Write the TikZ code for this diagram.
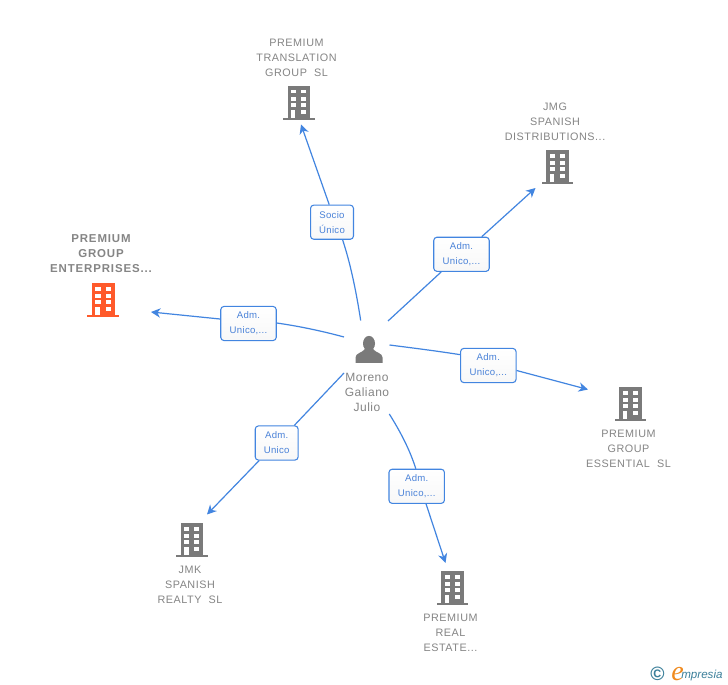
\documentclass[tikz,border=0pt]{standalone}
\usepackage{fontspec}
\setmainfont{Liberation Sans}
\newfontfamily\logofont{Liberation Serif}
\usetikzlibrary{arrows.meta}
\definecolor{iconGrey}{HTML}{7A7A7A}
\definecolor{iconOrange}{HTML}{FF5A2B}
\definecolor{edgeBlue}{HTML}{4285E0}
\definecolor{boxText}{HTML}{4A82D8}
\definecolor{nameGrey}{HTML}{858585}
\definecolor{logoBlue}{HTML}{3B7F9A}
\definecolor{logoOrange}{HTML}{F08A1E}
\tikzset{
  x=0.75pt,y=-0.75pt,
  conn/.style={draw=edgeBlue,line width=0.9pt},
  tip/.style={-{Stealth[length=7pt,width=7pt,inset=2.2pt]}},
  rolebox/.style={draw=edgeBlue,line width=0.8pt,rounded corners=2.4pt,top color=white,bottom color=black!3,
    text=boxText,font=\fontsize{7.2}{11.25}\selectfont\addfontfeatures{LetterSpace=3},align=center,inner sep=0pt,minimum height=25.6pt},
  wide/.style={rolebox,minimum width=41.6pt},
  narrow/.style={rolebox,minimum width=32.2pt},
  company/.style={text=nameGrey,font=\fontsize{8.1}{11.25}\selectfont\addfontfeatures{LetterSpace=5},align=center,inner sep=0pt},
  mainco/.style={company,font=\fontsize{8.6}{11.25}\selectfont\bfseries\addfontfeatures{LetterSpace=7.5}},
  person/.style={text=nameGrey,font=\fontsize{9}{11.25}\selectfont\addfontfeatures{LetterSpace=4},align=center,inner sep=0pt},
  pics/building/.style={code={
    \fill[#1] (-11.2,-17) rectangle (11.2,15);
    \fill[#1] (-16,15) rectangle (15.8,17.2);
    \foreach \cx in {-8,2.2} \foreach \cy in {-13.3,-6.2,0.2}
      \fill[white] (\cx,\cy) rectangle ++(5.2,3.8);
    \fill[white] (-8,6.7) rectangle (-3.4,15);
    \fill[white] (2.2,6.7) rectangle (7.4,10.7);
  }}
}
\begin{document}
\begin{tikzpicture}
\useasboundingbox[fill=white] (0,0) rectangle (728,685);
% companies
\node[company] (tr) at (296.5,57.5) {PREMIUM\\TRANSLATION\\GROUP\ \ SL};
\pic at (298.8,103) {building=iconGrey};
\node[company] (jmg) at (555,121.5) {JMG\\SPANISH\\DISTRIBUTIONS...};
\pic at (557.5,167) {building=iconGrey};
\node[mainco] (ent) at (101,254) {PREMIUM\\GROUP\\ENTERPRISES...};
\pic at (103.3,300) {building=iconOrange};
\node[company] (ess) at (628.5,448.5) {PREMIUM\\GROUP\\ESSENTIAL\ \ SL};
\pic at (630.5,404) {building=iconGrey};
\node[company] (rea) at (190,584.5) {JMK\\SPANISH\\REALTY\ \ SL};
\pic at (192,540) {building=iconGrey};
\node[company] (est) at (450.5,632.5) {PREMIUM\\REAL\\ESTATE...};
\pic at (452.5,588) {building=iconGrey};
% person
\fill[iconGrey] (369,343.5) ellipse (6 and 7.6);
\fill[iconGrey] (355.5,362.8) -- (355.5,357.5) .. controls (355.5,353) and (362,353) .. (365,349)
  -- (373,349) .. controls (376,353) and (382.5,353) .. (382.5,357.5) -- (382.5,362.8) -- cycle;
\node[person] (p) at (367,392) {Moreno\\Galiano\\Julio};
% role boxes
\node[narrow] (b1) at (332,222.2) {Socio\\Único};
\node[wide] (b2) at (461.5,254.3) {Adm.\\Unico,...};
\node[wide] (b3) at (248.5,323.5) {Adm.\\Unico,...};
\node[wide] (b4) at (488.3,365.5) {Adm.\\Unico,...};
\node[narrow] (b5) at (276.7,443) {Adm.\\Unico};
\node[wide] (b6) at (416.7,486.3) {Adm.\\Unico,...};
% free ends
\coordinate (s1) at (360.7,320.5); \coordinate (t1) at (301,124.5);
\coordinate (s2) at (388,321); \coordinate (t2) at (535.5,188);
\coordinate (s3) at (344,337); \coordinate (t3) at (151,312);
\coordinate (s4) at (389.5,345); \coordinate (t4) at (588,389.5);
\coordinate (s5) at (344,373); \coordinate (t5) at (207,514.5);
\coordinate (s6) at (389.3,414); \coordinate (t6) at (445.5,563);
% connectors
\draw[conn] (s1) .. controls (356,290) and (350,262) .. (b1.-59);
\draw[conn,tip] (b1.99) -- (t1);
\draw[conn] (s2) -- (b2.221);
\draw[conn,tip] (b2.41) -- (t2);
\draw[conn] (s3) .. controls (322,331) and (298,326) .. (b3.1);
\draw[conn,tip] (b3.171) -- (t3);
\draw[conn] (s4) .. controls (413,348) and (437,351) .. (b4.159.6);
\draw[conn,tip] (b4.-10.4) -- (t4);
\draw[conn] (s5) -- (b5.45);
\draw[conn,tip] (b5.225) -- (t5);
\draw[conn] (s6) .. controls (400,431) and (410,450) .. (b6.93);
\draw[conn,tip] (b6.-62) -- (t6);
% logo
\node[inner sep=0pt,text=logoBlue,font=\fontsize{14.5}{15}\selectfont\bfseries] (c) at (657.5,673.5) {©};
\node[inner sep=0pt,anchor=base west,text=logoOrange,font=\logofont\itshape\fontsize{21}{21}\selectfont] (e) at (671,680) {e};
\node[inner sep=0pt,anchor=base west,text=logoBlue,font=\itshape\fontsize{8.7}{10}\selectfont] (m) at (681,678) {mpresia};
\end{tikzpicture}
\end{document}
